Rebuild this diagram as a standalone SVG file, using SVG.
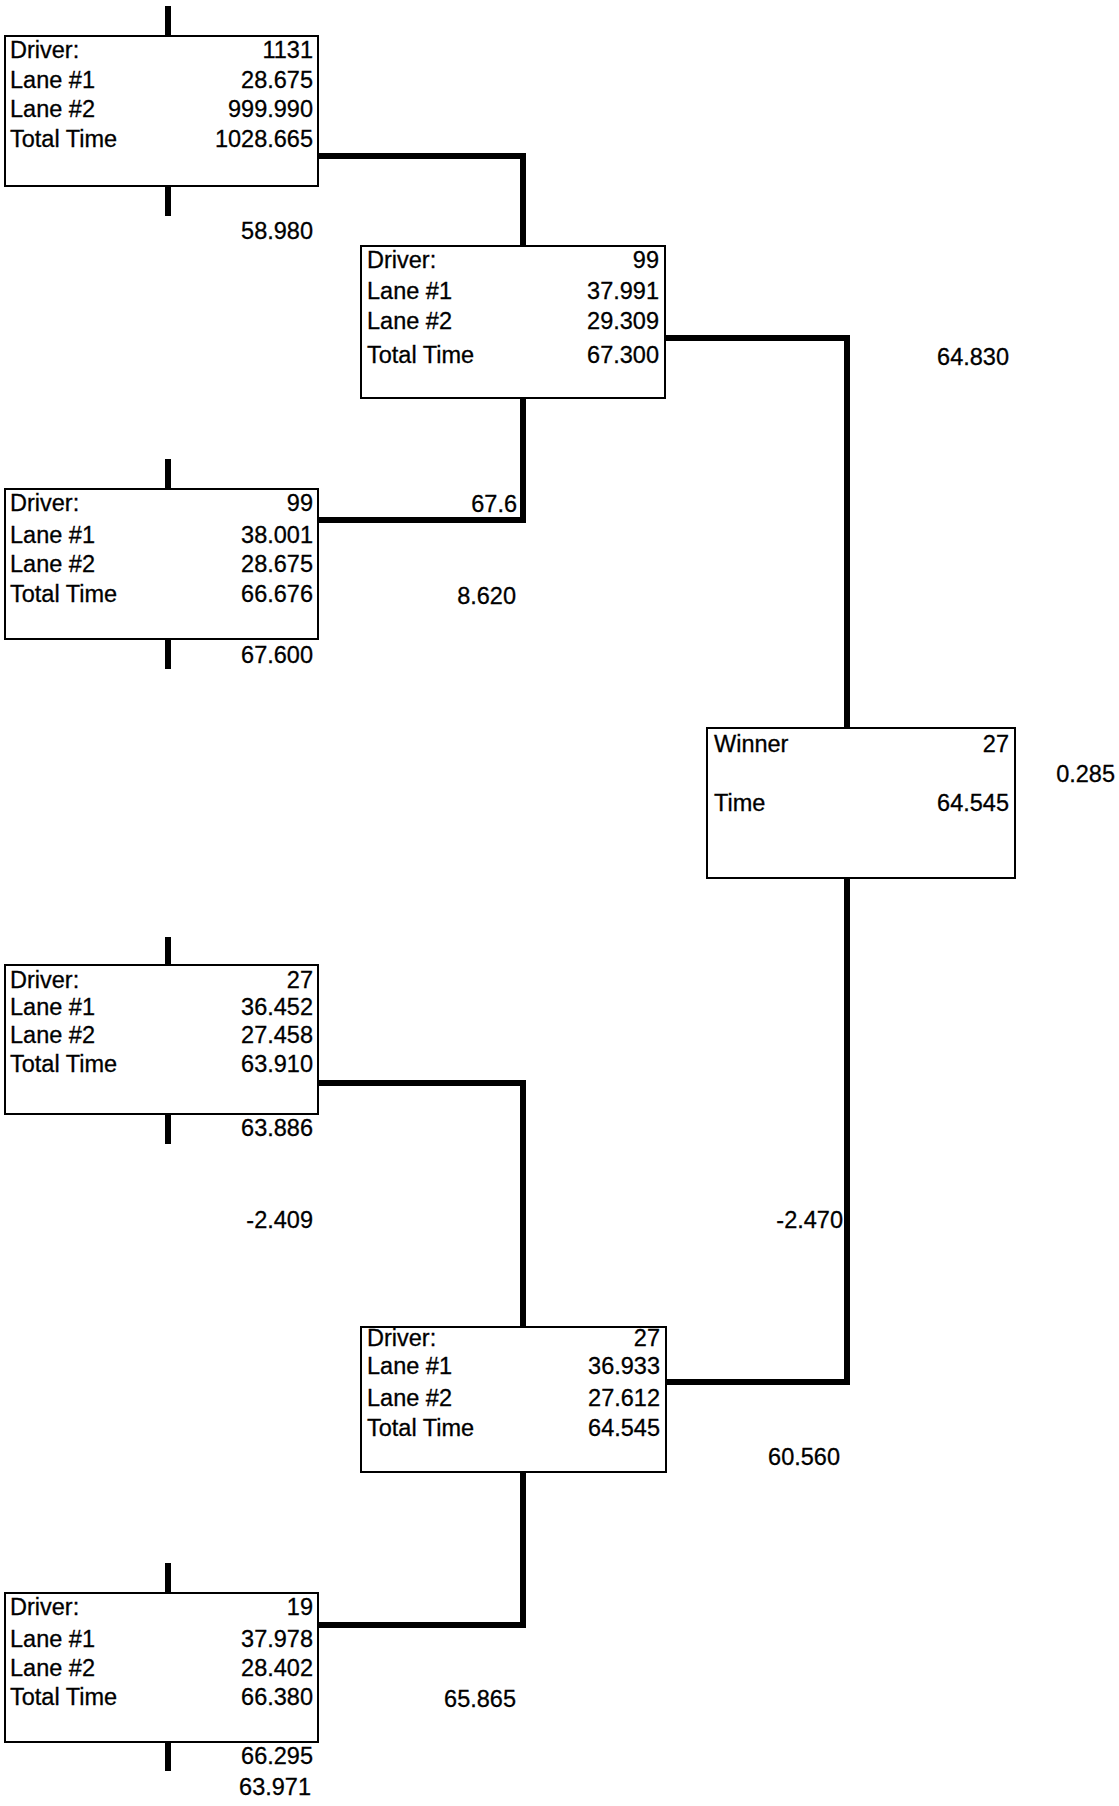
<svg xmlns="http://www.w3.org/2000/svg" width="1119" height="1806" viewBox="0 0 1119 1806">
<style>
.box{fill:#fff;stroke:#000;stroke-width:2}
.con{fill:none;stroke:#000;stroke-width:6;stroke-linejoin:miter}
.tick{stroke:#000;stroke-width:6}
text{font-family:"Liberation Sans",Arial,sans-serif;font-size:23.5px;fill:#000;stroke:#000;stroke-width:0.3}
.r{text-anchor:end}
</style>
<rect width="1119" height="1806" fill="#fff"/>
<g id="connectors">
<polyline class="con" points="318,156 523,156 523,246"/>
<polyline class="con" points="665,338 847,338 847,728"/>
<polyline class="con" points="523,398 523,520 318,520"/>
<polyline class="con" points="847,878 847,1382 666,1382"/>
<polyline class="con" points="318,1083 523,1083 523,1327"/>
<polyline class="con" points="523,1472 523,1625 318,1625"/>
<line class="tick" x1="168" y1="6" x2="168" y2="36"/>
<line class="tick" x1="168" y1="186" x2="168" y2="216"/>
<line class="tick" x1="168" y1="459" x2="168" y2="489"/>
<line class="tick" x1="168" y1="639" x2="168" y2="669"/>
<line class="tick" x1="168" y1="937" x2="168" y2="965"/>
<line class="tick" x1="168" y1="1114" x2="168" y2="1144"/>
<line class="tick" x1="168" y1="1563" x2="168" y2="1593"/>
<line class="tick" x1="168" y1="1742" x2="168" y2="1771"/>
</g>
<g id="nodeA">
<rect class="box" x="5" y="36" width="313" height="150"/>
<text x="10" y="58">Driver:</text><text class="r" x="313" y="58">1131</text>
<text x="10" y="88">Lane #1</text><text class="r" x="313" y="88">28.675</text>
<text x="10" y="117">Lane #2</text><text class="r" x="313" y="117">999.990</text>
<text x="10" y="147">Total Time</text><text class="r" x="313" y="147">1028.665</text>
</g>
<g id="nodeB">
<rect class="box" x="361" y="246" width="304" height="152"/>
<text x="367" y="268">Driver:</text><text class="r" x="659" y="268">99</text>
<text x="367" y="299">Lane #1</text><text class="r" x="659" y="299">37.991</text>
<text x="367" y="329">Lane #2</text><text class="r" x="659" y="329">29.309</text>
<text x="367" y="363">Total Time</text><text class="r" x="659" y="363">67.300</text>
</g>
<g id="nodeC">
<rect class="box" x="5" y="489" width="313" height="150"/>
<text x="10" y="511">Driver:</text><text class="r" x="313" y="511">99</text>
<text x="10" y="543">Lane #1</text><text class="r" x="313" y="543">38.001</text>
<text x="10" y="572">Lane #2</text><text class="r" x="313" y="572">28.675</text>
<text x="10" y="602">Total Time</text><text class="r" x="313" y="602">66.676</text>
</g>
<g id="winner">
<rect class="box" x="707" y="728" width="308" height="150"/>
<text x="714" y="752">Winner</text><text class="r" x="1009" y="752">27</text>
<text x="714" y="811">Time</text><text class="r" x="1009" y="811">64.545</text>
</g>
<g id="nodeD">
<rect class="box" x="5" y="965" width="313" height="149"/>
<text x="10" y="988">Driver:</text><text class="r" x="313" y="988">27</text>
<text x="10" y="1015">Lane #1</text><text class="r" x="313" y="1015">36.452</text>
<text x="10" y="1043">Lane #2</text><text class="r" x="313" y="1043">27.458</text>
<text x="10" y="1072">Total Time</text><text class="r" x="313" y="1072">63.910</text>
</g>
<g id="nodeE">
<rect class="box" x="361" y="1327" width="305" height="145"/>
<text x="367" y="1346">Driver:</text><text class="r" x="660" y="1346">27</text>
<text x="367" y="1374">Lane #1</text><text class="r" x="660" y="1374">36.933</text>
<text x="367" y="1406">Lane #2</text><text class="r" x="660" y="1406">27.612</text>
<text x="367" y="1436">Total Time</text><text class="r" x="660" y="1436">64.545</text>
</g>
<g id="nodeF">
<rect class="box" x="5" y="1593" width="313" height="149"/>
<text x="10" y="1615">Driver:</text><text class="r" x="313" y="1615">19</text>
<text x="10" y="1647">Lane #1</text><text class="r" x="313" y="1647">37.978</text>
<text x="10" y="1676">Lane #2</text><text class="r" x="313" y="1676">28.402</text>
<text x="10" y="1705">Total Time</text><text class="r" x="313" y="1705">66.380</text>
</g>
<g id="labels">
<text class="r" x="313" y="239">58.980</text>
<text class="r" x="1009" y="365">64.830</text>
<text class="r" x="517" y="512">67.6</text>
<text class="r" x="516" y="604">8.620</text>
<text class="r" x="313" y="663">67.600</text>
<text class="r" x="1115" y="782">0.285</text>
<text class="r" x="313" y="1136">63.886</text>
<text class="r" x="313" y="1228">-2.409</text>
<text class="r" x="843" y="1228">-2.470</text>
<text class="r" x="840" y="1465">60.560</text>
<text class="r" x="516" y="1707">65.865</text>
<text class="r" x="313" y="1764">66.295</text>
<text class="r" x="311" y="1795">63.971</text>
</g>
</svg>
